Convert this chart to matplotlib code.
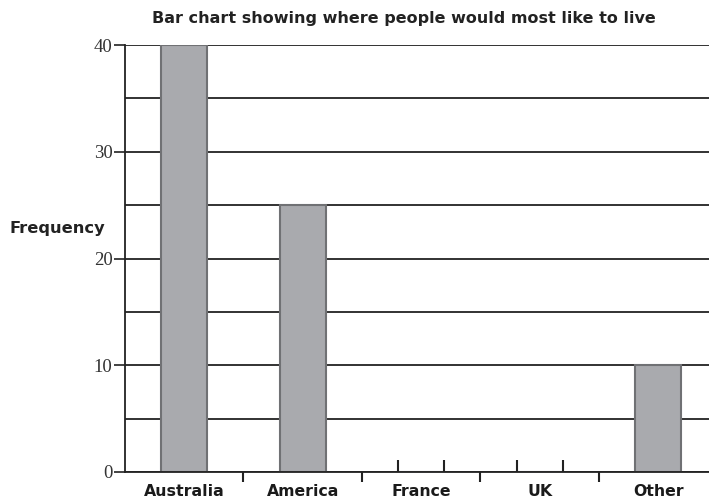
import matplotlib
matplotlib.use("Agg")
import matplotlib.pyplot as plt
from matplotlib.ticker import FixedLocator

categories = ["Australia", "America", "France", "UK", "Other"]
values = [40, 25, 0, 0, 10]
yticks_major = [0, 10, 20, 30, 40]
yticks_minor = [5, 15, 25, 35]

SANS = "DejaVu Sans"

fig = plt.figure(figsize=(7.09, 4.99), dpi=100)
ax = fig.add_axes([125/709, 27/499, 1 - 125/709, (472-45)/499])

bar_w = 0.39
x = list(range(len(categories)))
ax.bar(x, values, width=bar_w, color="#a9aaae", edgecolor="#707174", linewidth=1.5, zorder=2)
# edge stubs for zero-height bars
for xi, v in zip(x, values):
    if v == 0:
        ax.vlines([xi - bar_w/2, xi + bar_w/2], 0, 1.15, colors="#222222", linewidth=1.5, zorder=3)

ax.set_xlim(-0.5, 4.43)
ax.set_ylim(0, 40)

ax.set_yticks(yticks_major)
ax.set_yticks(yticks_minor, minor=True)
ax.set_yticklabels([str(t) for t in yticks_major], fontfamily="Liberation Serif", fontsize=13.5, color="#333333")
ax.tick_params(axis="y", which="major", direction="out", length=8, width=1.2, color="#222222", pad=1)
ax.tick_params(axis="y", which="minor", length=0)
ax.grid(axis="y", which="both", color="#222222", linewidth=1.3, zorder=0)
ax.set_axisbelow(True)

ax.set_xticks(x)
ax.set_xticklabels(categories, fontfamily=SANS, fontweight="bold", fontsize=11.3, color="#1a1a1a")
ax.tick_params(axis="x", which="major", length=0, pad=9)
ax.xaxis.set_minor_locator(FixedLocator([0.5, 1.5, 2.5, 3.5]))
ax.tick_params(axis="x", which="minor", direction="out", length=7, width=1.5, color="#222222")

for s in ["top", "right"]:
    ax.spines[s].set_visible(False)
for s in ["left", "bottom"]:
    ax.spines[s].set_color("#222222")
    ax.spines[s].set_linewidth(1.3)
    ax.spines[s].set_zorder(4)

fig.text(404/709, 1 - 19/499, "Bar chart showing where people would most like to live",
         ha="center", va="center", fontfamily=SANS, fontweight="bold", fontsize=11.5, color="#222222")
fig.text(57/709, 1 - 228/499, "Frequency", ha="center", va="center",
         fontfamily=SANS, fontweight="bold", fontsize=11.7, color="#222222")

fig.savefig("out.png", dpi=100)
